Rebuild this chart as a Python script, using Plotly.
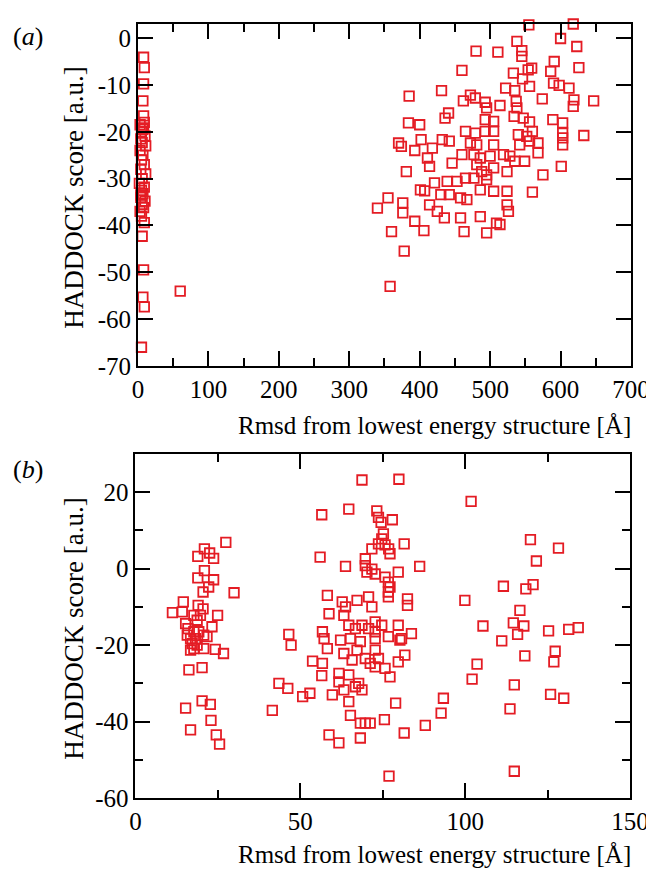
import plotly.graph_objects as go

# ---------------- data: panel (a) ----------------
a_x = [555, 618, 600, 538, 623, 480, 511, 545, 545, 591, 626, 559, 554, 460, 586, 533, 546,
       590, 598, 612, 522, 535, 556, 431, 385, 472, 479, 574, 647, 619, 618, 462, 493, 495,
       514, 537, 538, 441, 436, 384, 400, 493, 505, 534, 547, 556, 560, 589, 603, 603, 603,
       603, 633, 465, 479, 493, 505, 540, 552, 370, 374, 393, 402, 418, 432, 442, 472, 481,
       505, 542, 556, 568, 568, 411, 414, 446, 460, 477, 486, 500, 519, 528, 535, 549, 601,
       481, 488, 495, 505, 524, 381, 465, 477, 495, 575, 421, 439, 453, 401, 407, 430, 442,
       458, 467, 486, 505, 524, 560, 355, 340, 376, 376, 414, 425, 435, 458, 486, 509, 524,
       526, 393, 360, 406, 463, 495, 514, 378, 358,
       # near-native cluster
       8, 9, 8, 7, 8, 9, 3, 8, 5, 10, 4, 6, 11, 3, 7, 5, 9, 4, 11, 6, 2, 9, 5, 7, 4, 10, 6,
       8, 3, 5, 7, 4, 9, 6, 8, 7, 9, 5, 60]
a_y = [2.8, 3.0, -0.1, -0.7, -1.8, -2.8, -3.0, -2.7, -3.9, -5.0, -6.3, -6.4, -6.8, -6.9, -7.1,
       -7.5, -8.7, -9.6, -10.1, -10.7, -10.7, -11.2, -10.3, -11.2, -12.4, -12.2, -12.8, -13.0,
       -13.4, -13.2, -14.6, -13.4, -13.7, -14.9, -14.4, -13.5, -14.9, -16.0, -17.1, -18.1,
       -18.5, -17.4, -17.8, -16.7, -17.1, -17.9, -19.9, -17.4, -18.1, -20.3, -21.3, -22.8,
       -20.8, -19.9, -20.3, -19.9, -19.9, -20.6, -21.0, -22.4, -23.1, -24.0, -21.7, -23.5,
       -21.7, -22.0, -22.4, -22.8, -22.8, -22.8, -22.0, -22.4, -24.5, -25.6, -27.4, -26.7,
       -24.9, -24.9, -25.6, -25.2, -24.9, -25.2, -26.3, -26.3, -27.4, -27.0, -28.5, -29.2,
       -27.7, -28.5, -28.5, -29.9, -29.9, -30.2, -29.2, -30.9, -30.6, -30.6, -32.4, -32.6,
       -33.4, -33.4, -34.1, -34.5, -32.4, -32.7, -32.7, -32.9, -34.1, -36.3, -35.2, -37.3,
       -35.6, -37.0, -38.4, -38.4, -38.1, -39.5, -35.6, -37.0, -39.1, -41.3, -41.1, -41.3,
       -41.6, -39.8, -45.5, -53.0,
       -4.1, -6.3, -9.8, -13.4, -16.6, -18.0, -18.5, -19.2, -20.0, -20.9, -21.5, -22.3, -23.0,
       -24.0, -25.0, -26.0, -27.0, -28.0, -29.0, -30.0, -31.0, -31.8, -32.5, -33.2, -34.0,
       -34.8, -35.5, -36.2, -37.0, -38.0, -19.5, -33.5, -39.4, -42.3, -49.5, -55.3, -57.4,
       -66.0, -54.0]

# ---------------- data: panel (b) ----------------
b_x = [27.4, 20.9, 22.5, 18.9, 23.7, 20.9, 18.9, 23.7, 22.2, 20.5, 29.9, 14.5, 11.2, 14.2,
       19.0, 20.5, 17.7, 19.7, 18.7, 24.9, 15.2, 23.2, 15.9, 17.7, 19.2, 15.7, 16.7, 18.2,
       20.7, 21.7, 17.2, 17.7, 16.7, 18.7, 20.7, 24.2, 26.7, 16.2, 20.2, 15.2, 20.2, 22.7,
       16.7, 22.9, 24.5, 25.5, 46.5, 47.2, 43.5, 46.2, 41.5,
       68.7, 79.9, 56.5, 64.7, 73.2, 73.7, 74.5, 77.9, 75.2, 74.7, 75.7, 76.8, 77.2, 73.7,
       71.7, 81.5, 56.0, 63.7, 69.7, 69.7, 70.2, 71.7, 72.7, 79.7, 75.7, 76.7, 77.2, 76.7,
       76.7, 86.2, 82.5, 82.5, 99.9, 58.2, 62.7, 63.7, 67.2, 70.7, 71.7, 63.2, 58.7, 64.7,
       66.7, 68.7, 70.7, 72.7, 74.7, 72.7, 79.7, 83.7, 80.7, 56.7, 57.2, 62.2, 65.2, 68.2,
       72.7, 76.7, 80.2, 58.2, 63.2, 67.2, 72.7, 73.7, 81.7, 79.7, 53.7, 56.7, 65.7, 69.7,
       71.2, 72.7, 75.7, 56.5, 61.7, 61.7, 64.7, 67.7, 77.2, 50.7, 52.9, 59.7, 63.2, 66.7,
       68.7, 64.7, 78.9, 65.2, 68.2, 69.7, 71.2, 75.5, 58.7, 61.7, 68.2, 81.5, 87.9, 92.7,
       93.4, 76.9,
       101.8, 119.8, 128.3, 121.6, 111.6, 120.6, 118.4, 116.6, 105.4, 114.6, 117.8, 115.9,
       111.1, 125.3, 131.4, 134.3, 118.1, 127.3, 126.9, 103.6, 102.1, 114.9, 125.9, 129.9,
       113.6, 114.9]
b_y = [6.9, 5.2, 4.1, 3.2, 2.7, -0.5, -2.4, -2.9, -4.8, -6.1, -6.3, -8.7, -11.5, -11.3, -9.6,
       -10.5, -12.2, -12.2, -13.5, -12.2, -14.4, -15.2, -15.7, -16.5, -16.5, -17.4, -18.3,
       -18.3, -17.4, -17.8, -19.6, -20.9, -21.3, -20.0, -20.9, -21.1, -22.2, -26.5, -25.9,
       -36.5, -34.6, -35.5, -42.2, -39.7, -43.5, -45.9, -17.2, -20.0, -30.0, -31.3, -37.1,
       23.2, 23.4, 14.1, 15.6, 15.1, 13.4, 12.1, 12.8, 9.1, 7.8, 6.2, 5.2, 3.9, 6.5, 5.2, 6.5,
       3.0, 0.6, 2.6, 0.8, -0.9, -0.1, -1.4, -0.9, -2.2, -3.5, -4.8, -6.1, -7.4, 0.6, -7.9,
       -9.6, -8.3, -7.0, -8.7, -10.0, -8.3, -7.4, -10.0, -12.2, -11.8, -14.8, -15.7, -14.8,
       -15.7, -13.9, -14.8, -16.5, -14.8, -17.0, -18.3, -16.5, -18.3, -18.7, -18.3, -19.1,
       -18.3, -17.8, -18.7, -20.9, -22.2, -21.3, -21.3, -23.5, -22.6, -24.4, -24.2, -24.8,
       -23.9, -23.5, -24.8, -25.7, -26.1, -28.0, -27.4, -29.6, -27.8, -30.0, -28.3, -33.5,
       -32.6, -33.0, -31.7, -30.9, -31.7, -34.8, -35.2, -38.4, -40.4, -40.4, -40.4, -39.5,
       -43.5, -45.6, -44.3, -43.0, -41.0, -37.8, -33.9, -54.3,
       17.6, 7.6, 5.4, 2.0, -4.6, -4.2, -5.3, -10.9, -15.0, -14.2, -15.0, -17.2, -18.9, -16.3,
       -15.9, -15.4, -22.8, -21.6, -24.4, -25.0, -28.9, -30.4, -32.9, -33.9, -36.7, -53.0]

a_xticks = [0, 100, 200, 300, 400, 500, 600, 700]
a_yticks = [0, -10, -20, -30, -40, -50, -60, -70]
b_xticks = [0, 50, 100, 150]
b_yticks = [20, 0, -20, -40, -60]

x_title = "Rmsd from lowest energy structure [Å]"
y_title = "HADDOCK score [a.u.]"

# ---------------- geometry ----------------
W, H = 654, 874
L, R, T, B = 127, 25, 16, 84
PW, PH = W - L - R, H - T - B


def px(xp):
    return (xp - L) / PW


def py(yp):
    return (H - B - yp) / PH


FONT = "Liberation Serif"
RED = "rgb(228,28,36)"

marker = dict(symbol="square-open", size=9.5, color=RED, line=dict(width=1.8, color=RED))

fig = go.Figure()
fig.add_trace(go.Scatter(x=a_x, y=a_y, mode="markers", marker=marker,
                         xaxis="x", yaxis="y", showlegend=False, cliponaxis=False))
fig.add_trace(go.Scatter(x=b_x, y=b_y, mode="markers", marker=marker,
                         xaxis="x2", yaxis="y2", showlegend=False, cliponaxis=False))

axis_common = dict(showline=True, linecolor="black", linewidth=2, mirror="ticks",
                   ticks="inside", ticklen=15, tickwidth=1.5, tickcolor="black",
                   showgrid=False, zeroline=False,
                   tickfont=dict(family=FONT, size=25, color="black"))
minor_common = dict(ticklen=8, tickwidth=1.5, tickcolor="black", ticks="inside")


def labels(vals):
    return [str(v) for v in vals]


fig.update_layout(
    width=W, height=H,
    margin=dict(l=L, r=R, t=T, b=B),
    paper_bgcolor="white", plot_bgcolor="white",
    font=dict(family=FONT, color="black"),
    xaxis=dict(domain=[px(130), px(629)], range=[0, 700], anchor="y",
               tickvals=a_xticks, ticktext=labels(a_xticks),
               minor=dict(dtick=50, **minor_common), **axis_common),
    yaxis=dict(domain=[py(358), py(16)], range=[-70, 3], anchor="x",
               tickvals=a_yticks, ticktext=labels(a_yticks), **axis_common),
    xaxis2=dict(domain=[px(127.5), px(628)], range=[0, 150], anchor="y2",
                tickvals=b_xticks, ticktext=labels(b_xticks),
                minor=dict(dtick=25, **minor_common), **axis_common),
    yaxis2=dict(domain=[py(790), py(446)], range=[-60, 30], anchor="x2",
                tickvals=b_yticks, ticktext=labels(b_yticks),
                minor=dict(dtick=10, **minor_common), **axis_common),
)

ann = []
for xc, yc in [(430, 417), (430, 847)]:
    ann.append(dict(text=x_title, x=px(xc), y=py(yc), xref="paper", yref="paper",
                    showarrow=False, font=dict(family=FONT, size=25, color="black"),
                    xanchor="center", yanchor="middle"))
for yc in [190, 621]:
    ann.append(dict(text=y_title, x=px(65), y=py(yc), xref="paper", yref="paper",
                    showarrow=False, font=dict(family=FONT, size=27, color="black"),
                    textangle=-90, xanchor="center", yanchor="middle"))
for lab, yc in [("(<i>a</i>)", 28), ("(<i>b</i>)", 461)]:
    ann.append(dict(text=lab, x=px(2), y=py(yc), xref="paper", yref="paper",
                    showarrow=False, font=dict(family=FONT, size=26, color="black"),
                    xanchor="left", yanchor="middle"))
fig.update_layout(annotations=ann)

fig.write_html("out.html")
